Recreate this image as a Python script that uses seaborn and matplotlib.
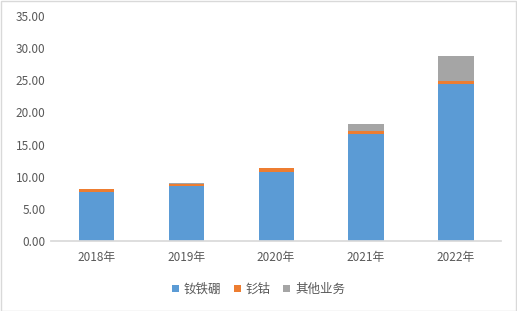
import matplotlib
matplotlib.use("Agg")
import matplotlib.pyplot as plt
import seaborn as sns
import pandas as pd
import numpy as np

years = ["2018年", "2019年", "2020年", "2021年", "2022年"]
ndfeb = [7.6, 8.55, 10.8, 16.6, 24.4]
smco = [0.5, 0.32, 0.5, 0.55, 0.5]
other = [0.05, 0.08, 0.1, 1.05, 3.9]
series_names = ["钕铁硼", "钐钴", "其他业务"]
colors = ["#5B9BD5", "#ED7D31", "#A5A5A5"]

sns.set_theme(style="white")
plt.rcParams['font.family'] = ['Noto Sans CJK SC', 'DejaVu Sans']

fig = plt.figure(figsize=(5.17, 3.11), dpi=100)
ax = fig.add_axes([0.099, 0.225, 0.87, 0.724])

bottoms = np.zeros(len(years))
for name, vals, c in zip(series_names, [ndfeb, smco, other], colors):
    df = pd.DataFrame({"year": years, "v": vals})
    sns.barplot(data=df, x="year", y="v", color=c, width=0.39, ax=ax,
                bottom=bottoms, label=name, saturation=1, linewidth=0)
    bottoms = bottoms + np.array(vals)

handles, labels = ax.get_legend_handles_labels()
if ax.get_legend() is not None:
    ax.get_legend().remove()

ax.set_ylim(0, 35)
ax.set_yticks(np.arange(0, 35.1, 5))
ax.set_yticklabels([f"{v:.2f}" for v in np.arange(0, 35.1, 5)])
ax.set_xlabel("")
ax.set_ylabel("")
for s in ["top", "right", "left"]:
    ax.spines[s].set_visible(False)
ax.spines["bottom"].set_color("#D9D9D9")
ax.tick_params(axis="both", length=0, labelsize=8.5, colors="#595959", pad=4)
ax.tick_params(axis="x", pad=7)

leg = fig.legend(handles, labels, loc="lower center", bbox_to_anchor=(0.5, 0.012),
                 ncol=3, frameon=False, fontsize=9, handlelength=0.55, handleheight=0.55,
                 handletextpad=0.4, columnspacing=1.0)
for t in leg.get_texts():
    t.set_color("#595959")

fig.patches.append(plt.Rectangle((0.001, 0.001), 0.997, 0.997, transform=fig.transFigure,
                                 fill=False, edgecolor="#D9D9D9", linewidth=1))
fig.savefig("out.png", dpi=100)
